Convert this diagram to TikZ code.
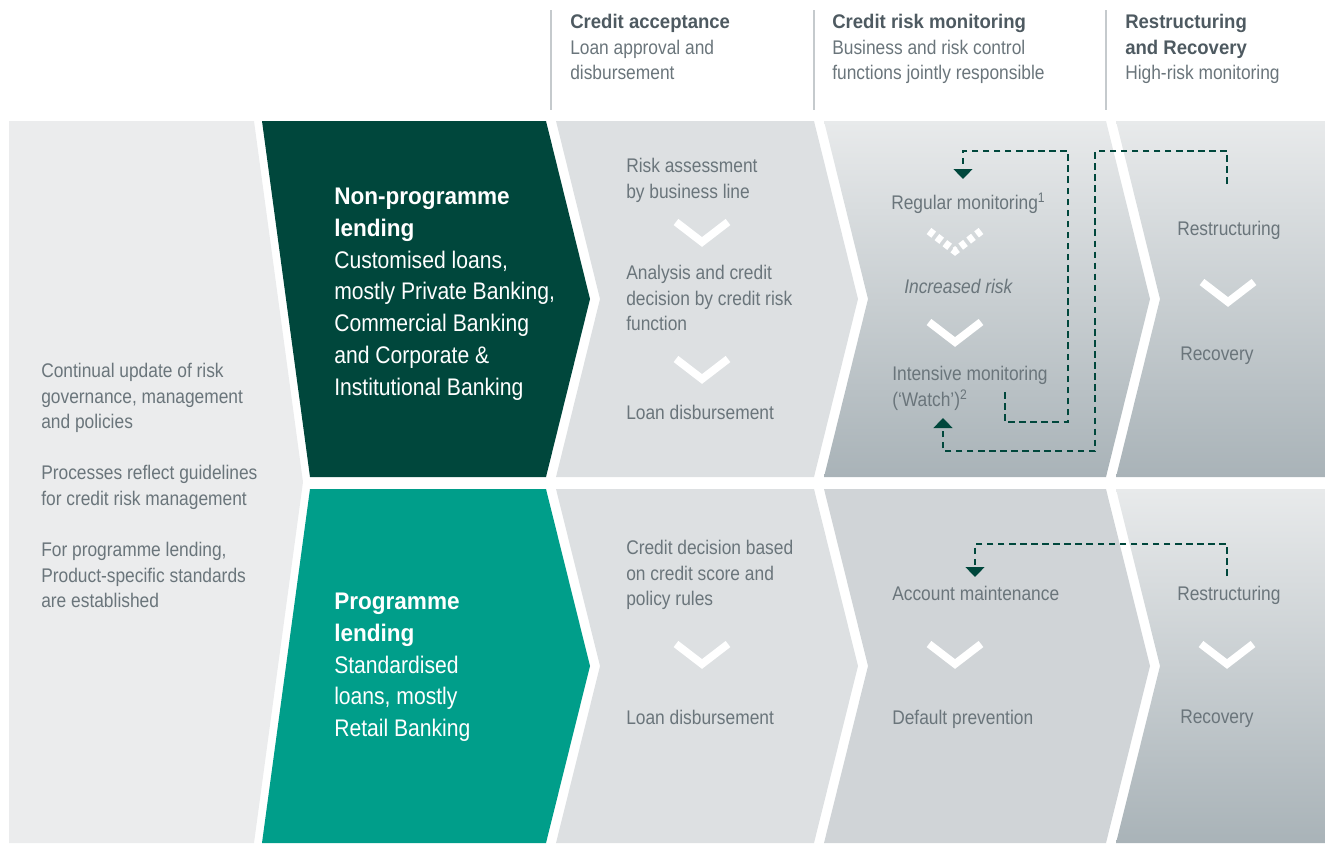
\documentclass[tikz,border=0pt]{standalone}
\usepackage{fontspec}
\setmainfont{Liberation Sans}[FakeStretch=0.88, BoldFeatures={FakeStretch=0.94}]
\usetikzlibrary{arrows.meta}

\definecolor{lendingdark}{HTML}{00473C}
\definecolor{lendingteal}{HTML}{009E8A}
\definecolor{panelleft}{HTML}{EBECED}
\definecolor{panelmid}{HTML}{DDE0E2}
\definecolor{panellow}{HTML}{D0D4D7}
\definecolor{shadetop}{HTML}{E8EAEB}
\definecolor{shadebot}{HTML}{A9B3B8}
\definecolor{textgray}{HTML}{6A757B}
\definecolor{headgray}{HTML}{4E5A61}
\definecolor{rulegray}{HTML}{C5CACD}

\tikzset{
  bodytext/.style={font=\fontsize{14.8}{19.2}\selectfont, text=textgray, align=left, anchor=north west, inner sep=0pt},
  bigtext/.style={font=\fontsize{18}{23.8}\selectfont, text=white, align=left, anchor=north west, inner sep=0pt},
  vmark/.style={draw=white, line width=5.8pt},
  vmarkdotted/.style={draw=white, line width=5.8pt, dash pattern=on 4.5pt off 3pt},
  feedback/.style={draw=lendingdark, line width=1.8pt, dash pattern=on 4.9pt off 3.4pt, -{Triangle[width=14pt,length=7.5pt]}},
  colrule/.style={draw=rulegray, line width=0.8pt}
}

\begin{document}
\begin{tikzpicture}[x=0.75pt, y=-0.75pt]
  \useasboundingbox (0,0) rectangle (1325,843);

  % headers
  \draw[colrule] (551,10) -- (551,110);
  \draw[colrule] (814,10) -- (814,110);
  \draw[colrule] (1106,10) -- (1106,110);
  \node[bodytext] (headaccept) at (570,14) {\textcolor{headgray}{\bfseries Credit acceptance}\\Loan approval and\\disbursement};
  \node[bodytext] (headmonitor) at (832,14) {\textcolor{headgray}{\bfseries Credit risk monitoring}\\Business and risk control\\functions jointly responsible};
  \node[bodytext] (headrecover) at (1125,14) {\textcolor{headgray}{\bfseries Restructuring}\\\textcolor{headgray}{\bfseries and Recovery}\\High-risk monitoring};

  % left panel
  \fill[panelleft] (9,121) -- (254,121) -- (303,482) -- (254,843) -- (9,843) -- cycle;
  \node[bodytext] (policy) at (41,363) {Continual update of risk\\governance, management\\and policies};
  \node[bodytext] (guideline) at (41,465) {Processes reflect guidelines\\for credit risk management};
  \node[bodytext] (standard) at (41,542) {For programme lending,\\Product-specific standards\\are established};

  % lending types
  \fill[lendingdark] (262,121) -- (546,121) -- (590,299) -- (546,477) -- (310,477) -- cycle;
  \fill[lendingteal] (310,489) -- (546,489) -- (590,666) -- (546,843) -- (262,843) -- cycle;
  \node[bigtext] (nonprog) at (334,188) {\bfseries Non-programme\\\bfseries lending\\Customised loans,\\mostly Private Banking,\\Commercial Banking\\and Corporate \&\\Institutional Banking};
  \node[bigtext] (prog) at (334,593) {\bfseries Programme\\\bfseries lending\\Standardised\\loans, mostly\\Retail Banking};

  % credit acceptance
  \fill[panelmid] (556,121) -- (814,121) -- (858,299) -- (814,477) -- (556,477) -- (600,299) -- cycle;
  \fill[panelmid] (556,489) -- (814,489) -- (858,666) -- (814,843) -- (556,843) -- (600,666) -- cycle;
  \node[bodytext] (assess) at (626,158) {Risk assessment\\by business line};
  \draw[vmark] (676,222) -- (702,242) -- (728,222);
  \node[bodytext] (analysis) at (626,265) {Analysis and credit\\decision by credit risk\\function};
  \draw[vmark] (676,359) -- (702,379) -- (728,359);
  \node[bodytext] (disburse) at (626,405) {Loan disbursement};
  \node[bodytext] (score) at (626,540) {Credit decision based\\on credit score and\\policy rules};
  \draw[vmark] (676,644) -- (702,664) -- (728,644);
  \node[bodytext] (disburselow) at (626,710) {Loan disbursement};

  % credit risk monitoring
  \shade[top color=shadetop, bottom color=shadebot] (824,121) -- (1106,121) -- (1150,299) -- (1106,477) -- (824,477) -- (868,299) -- cycle;
  \fill[panellow] (824,489) -- (1106,489) -- (1150,666) -- (1106,843) -- (824,843) -- (868,666) -- cycle;
  \node[bodytext] (regular) at (891,193) {Regular monitoring\textsuperscript{1}};
  \draw[vmarkdotted] (929,231) -- (955,251) -- (981,231);
  \node[bodytext, font=\fontsize{14.8}{19.2}\selectfont\itshape] (increased) at (904,279) {Increased risk};
  \draw[vmark] (929,322) -- (955,342) -- (981,322);
  \node[bodytext] (watch) at (892,366) {Intensive monitoring\\(‘Watch’)\textsuperscript{2}};
  \node[bodytext] (account) at (892,586) {Account maintenance};
  \draw[vmark] (929,644) -- (955,664) -- (981,644);
  \node[bodytext] (default) at (892,710) {Default prevention};

  % restructuring and recovery
  \shade[top color=shadetop, bottom color=shadebot] (1116,121) -- (1325,121) -- (1325,477) -- (1116,477) -- (1160,299) -- cycle;
  \shade[top color=shadetop, bottom color=shadebot] (1116,489) -- (1325,489) -- (1325,843) -- (1116,843) -- (1160,666) -- cycle;
  \node[bodytext] (restr) at (1177,221) {Restructuring};
  \draw[vmark] (1202,282) -- (1228,302) -- (1254,282);
  \node[bodytext] (recov) at (1180,347) {Recovery};
  \node[bodytext] (restrlow) at (1177,586) {Restructuring};
  \draw[vmark] (1201,644) -- (1227,664) -- (1253,644);
  \node[bodytext] (recovlow) at (1180,710) {Recovery};

  % feedback loops
  \coordinate (watchout) at (1005,392);
  \coordinate (regin) at (963,179);
  \coordinate (restrout) at (1227,184);
  \coordinate (watchin) at (943,418);
  \coordinate (restrlowout) at (1227,576);
  \coordinate (accountin) at (975,577);
  \draw[feedback] (watchout) |- (1068,422) |- (963,151) -- (regin);
  \draw[feedback] (restrout) |- (1095,151) |- (943,451) -- (watchin);
  \draw[feedback] (restrlowout) |- (975,544) -- (accountin);
\end{tikzpicture}
\end{document}
